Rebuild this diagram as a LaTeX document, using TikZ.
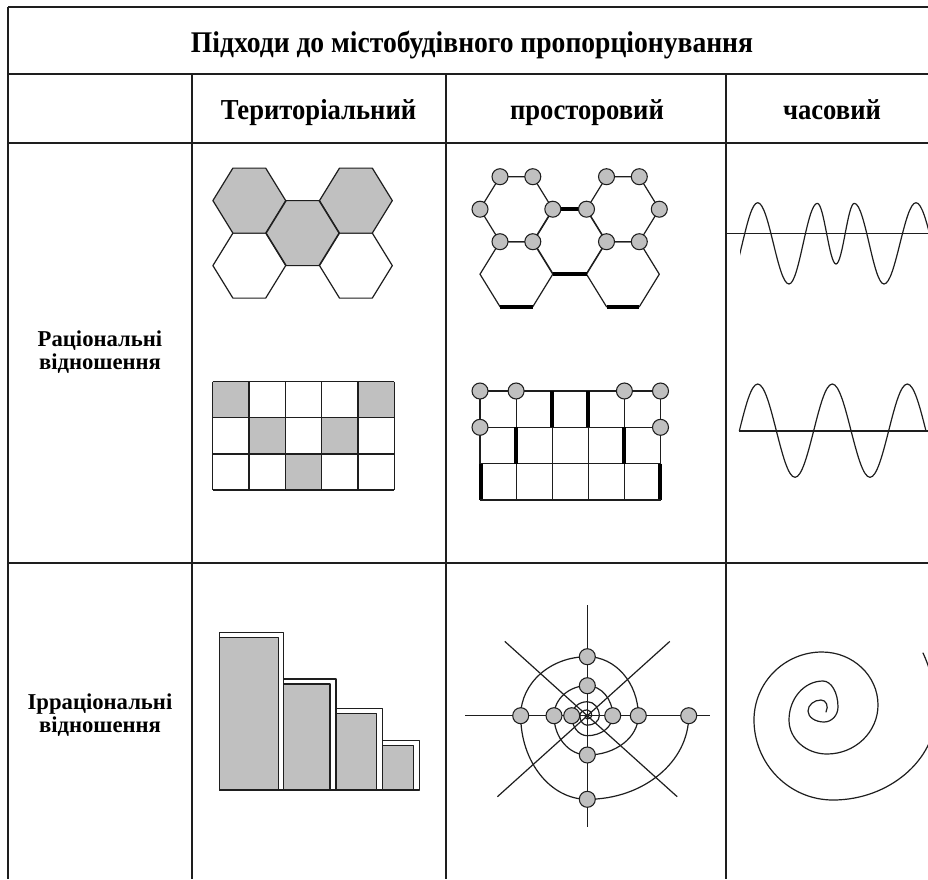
\documentclass[tikz,border=0pt]{standalone}
\usepackage{fontspec}
\setmainfont{Liberation Serif}
\newfontfamily\hdrfont{Liberation Serif}[FakeStretch=0.92]
\usetikzlibrary{calc}
\definecolor{shd}{RGB}{192,192,192}
\definecolor{ink}{RGB}{30,30,30}
\begin{document}
\begin{tikzpicture}[x=0.75pt,y=-0.75pt,
  tbl/.style={line width=1.3pt,draw=ink},
  fig/.style={line width=0.9pt,draw=ink,line join=round},
  thk/.style={line width=3pt,draw=black},
  dotc/.style={fill=shd,draw=ink,line width=0.8pt},
  hdr/.style={font=\hdrfont\bfseries\fontsize{21.7}{26}\selectfont,anchor=base,inner sep=0pt},
  ttl/.style={font=\hdrfont\bfseries\fontsize{22.5}{27}\selectfont,anchor=base,inner sep=0pt},
  rowlbl/.style={font=\bfseries\fontsize{17}{17.5}\selectfont,align=center,inner sep=0pt},
  pics/hexa/.style={code={\draw[pic actions] (-36.4,0) -- (-16.4,-32.5) -- (16.4,-32.5) -- (36.4,0) -- (16.4,32.5) -- (-16.4,32.5) -- cycle;}}
]
\useasboundingbox (0,0) rectangle (928,879);
\clip (0,0) rectangle (928,879);
\fill[white] (0,0) rectangle (928,879);

% ---------- table ----------
\draw[tbl] (8,7) -- (928,7);
\draw[tbl] (8,74) -- (928,74);
\draw[tbl] (8,143) -- (928,143);
\draw[tbl] (8,563) -- (928,563);
\draw[tbl] (8,7) -- (8,879);
\draw[tbl] (192,74) -- (192,879);
\draw[tbl] (446,74) -- (446,879);
\draw[tbl] (726,74) -- (726,879);

\node[ttl] (title) at (472,52) {Підходи до містобудівного пропорціонування};
\node[hdr] (h1) at (318.5,119) {Територіальний};
\node[hdr] (h2) at (587,119) {просторовий};
\node[hdr] (h3) at (832,119) {часовий};
\node[rowlbl] (r1) at (100,352) {Раціональні\\відношення};
\node[rowlbl] (r2) at (100,715) {Ірраціональні\\відношення};

% ---------- territorial hexagons ----------
\pic[fig,fill=white] at (249.3,265.6) {hexa};
\pic[fig,fill=white] at (355.9,265.6) {hexa};
\pic[fig,fill=shd] at (249.3,200.6) {hexa};
\pic[fig,fill=shd] at (355.9,200.6) {hexa};
\pic[fig,fill=shd] at (302.6,233.1) {hexa};

% ---------- spatial hexagon graph ----------
\pic[fig] at (516.4,209.2) {hexa};
\pic[fig] at (516.4,274.2) {hexa};
\pic[fig] at (569.7,241.7) {hexa};
\pic[fig] at (622.9,209.2) {hexa};
\pic[fig] at (622.9,274.2) {hexa};
\draw[thk] (552.8,209.2) -- (586.5,209.2);
\draw[thk] (552.8,274.2) -- (586.5,274.2);
\draw[thk] (500,306.7) -- (532.8,306.7);
\draw[thk] (606.5,306.7) -- (639.3,306.7);
\foreach \p in {(500,176.7),(532.8,176.7),(480,209.2),(552.8,209.2),(500,241.7),(532.8,241.7),
                (606.5,176.7),(639.3,176.7),(586.5,209.2),(659.3,209.2),(606.5,241.7),(639.3,241.7)}
  \draw[dotc] \p circle[radius=8];

% ---------- territorial grid ----------
\foreach \c/\r in {0/0,4/0,1/1,3/1,2/2}
  \fill[shd] (212.7+36.32*\c,381.7+36.1*\r) rectangle ++(36.32,36.1);
\foreach \r in {0,1,2,3}
  \draw[fig] (212.7,381.7+36.1*\r) -- (394.3,381.7+36.1*\r);
\foreach \c in {0,...,5}
  \draw[fig] (212.7+36.32*\c,381.7) -- (212.7+36.32*\c,490);

% ---------- spatial grid ----------
\foreach \r in {0,1,2,3}
  \draw[fig] (480,391+36.33*\r) -- (660.5,391+36.33*\r);
\foreach \r in {0,1,2}
  \foreach \c in {0,...,5}
    \draw[fig] (480+36.1*\c,391+36.33*\r) -- (480+36.1*\c,391+36.33*\r+36.33);
\draw[thk,line cap=butt] (552.2,391) -- (552.2,427.3);
\draw[thk,line cap=butt] (588.3,391) -- (588.3,427.3);
\draw[thk,line cap=butt] (516.1,427.3) -- (516.1,463.6);
\draw[thk,line cap=butt] (624.4,427.3) -- (624.4,463.6);
\draw[thk,line cap=butt] (481,463.6) -- (481,500);
\draw[thk,line cap=butt] (659.5,463.6) -- (659.5,500);
\draw[fig,line width=1.3pt] (480,500) -- (660.5,500);
\foreach \p in {(480,391),(516.1,391),(624.4,391),(660.5,391),(480,427.3),(660.5,427.3)}
  \draw[dotc] \p circle[radius=8];

% ---------- time waves ----------
\draw[fig] (726,233.3) -- (928,233.3);
\begin{scope}
  \clip (740,150) rectangle (928,320);
  \draw[fig] (727,284) cos (742.35,243.35) sin (757.7,202.7) cos (773.35,243.35) sin (789,284)
    cos (803.15,243.65) sin (817.3,203.3) cos (826.65,233.65) sin (836,264)
    cos (845.15,233.65) sin (854.3,203.3) cos (869.15,243.65) sin (884,284)
    cos (900,243.35) sin (916,202.7) cos (932,243.35) sin (948,284);
\end{scope}
\draw[fig] (739.3,431) -- (928,431);
\draw[fig] (739.3,431) sin (757.7,384) cos (776.4,431) sin (795,477.3) cos (813.6,431)
  sin (832.3,384) cos (851.1,431) sin (870,477.3) cos (888.6,431) sin (907.3,384) cos (926,431);

% ---------- bars ----------
\foreach \l/\orr/\ot/\gr/\gt in {219.3/283.3/632.7/278.3/637.7, 283.3/336/679/330/684,
                                336/382.7/708.7/376.7/713.3, 382.7/419.3/740.3/413.3/745.3}{
  \draw[fig,fill=white] (\l,790) rectangle (\orr,\ot);
  \draw[fig,fill=shd] (\l,790) rectangle (\gr,\gt);
}

% ---------- spatial spiral ----------
\begin{scope}[shift={(587.3,715.7)}]
  \draw[fig] (0,-110.7) -- (0,111);
  \draw[fig] (-122.3,0) -- (122.7,0);
  \draw[fig] (-82.5,-74.3) -- (89.9,81);
  \draw[fig] (82.5,-74.3) -- (-89.9,81);
  \foreach \i/\ra/\rb in {0/101.4/83.6,1/83.6/66.6,2/66.6/59,3/59/51,4/51/39.3,5/39.3/33.3,
      6/33.3/30,7/30/25.4,8/25.4/20,9/20/15.6,10/15.6/14,11/14/12,12/12/9.5,13/9.5/7.5,
      14/7.5/5.8,15/5.8/4.4,16/4.4/3.2,17/3.2/2.2}
    \draw[fig,line cap=round] (\i*90:\ra) .. controls ($(\i*90:\ra)+(\i*90+90:0.5523*\rb)$)
      and ($(\i*90+90:\rb)+(\i*90:0.5523*\ra)$) .. (\i*90+90:\rb);
  \foreach \p in {(101.4,0),(0,83.6),(-66.6,0),(0,-59),(51,0),(0,39.3),(-33.3,0),(0,-30),(25.4,0),(-15.6,0)}
    \draw[dotc] \p circle[radius=8];
\end{scope}

% ---------- time spiral ----------
\draw[fig,line cap=round] (826,712) .. controls (829,706) and (826,700) .. (821,700)
  .. controls (814,700) and (808,705) .. (808,711)
  .. controls (808,717.1) and (815.2,722) .. (824,722)
  .. controls (831.7,722) and (838,715.3) .. (838,707)
  .. controls (838,692.6) and (831.3,681) .. (823,681)
  .. controls (804.2,681) and (789,698.5) .. (789,720)
  .. controls (789,738.8) and (806,754) .. (827,754)
  .. controls (855.2,754) and (878,732) .. (878,705)
  .. controls (878,675.7) and (852.9,652) .. (822,652)
  .. controls (784.5,652) and (754,682.5) .. (754,720)
  .. controls (754,764.2) and (789.4,800) .. (833,800)
  .. controls (888.8,800) and (936,760) .. (936,712)
  .. controls (936,688) and (930,668) .. (923,653);
\end{tikzpicture}
\end{document}
